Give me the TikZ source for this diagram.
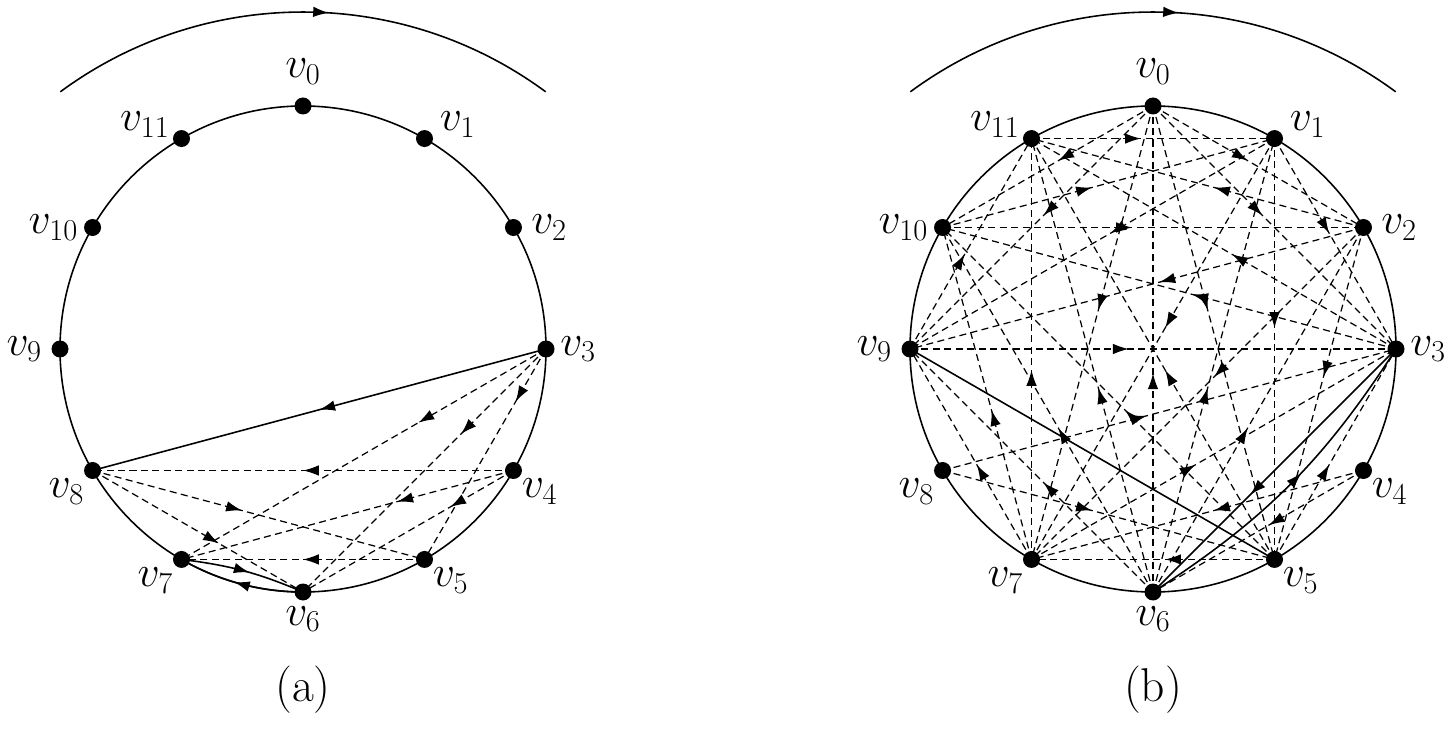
\documentclass[tikz,border=0pt]{standalone}
\usetikzlibrary{decorations.markings,arrows.meta,calc,positioning}
\begin{document}
\begin{tikzpicture}[
  dot/.style={circle,fill=black,inner sep=0pt,minimum size=0.34cm},
  lab/.style={font=\fontsize{27}{30}\selectfont,inner sep=1pt},
  marr/.style={postaction={decorate,decoration={markings,mark=at position #1 with {\arrow{Latex[length=9pt,width=6pt]}}}}},
  marr/.default=0.5,
  dl/.style={dashed,line width=0.7pt,dash pattern=on 4pt off 2.5pt},
  sl/.style={line width=0.9pt}]
\useasboundingbox (0,0) rectangle (28.96,14.66);
\def\r{4.86}
% ---------- (a)
\coordinate (CA) at (6.06,7.68);
\draw[sl] (CA) circle (\r);
\foreach \i in {0,...,11}{\node[dot] (L\i) at ($(CA)+(90-30*\i:\r)$) {};}
\draw[sl,marr=0.55] (6.06,6.24)++(126.4:8.18) arc (126.4:53.6:8.18);
\node[lab,above=6pt of L0] {$v_0$};
\node[lab,above right=-4pt and 4pt of L1] {$v_1$};
\node[lab,right=4pt of L2] {$v_2$};
\node[lab,right=2pt of L3] {$v_3$};
\node[lab,below right=0pt and 0pt of L4] {$v_4$};
\node[lab,below right=0pt and 0pt of L5] {$v_5$};
\node[lab,below=2pt of L6] {$v_6$};
\node[lab,below left=0pt and 0pt of L7] {$v_7$};
\node[lab,below left=0pt and 0pt of L8] {$v_8$};
\node[lab,left=4pt of L9] {$v_9$};
\node[lab,left=2pt of L10] {$v_{10}$};
\node[lab,above left=-4pt and 2pt of L11] {$v_{11}$};
\draw[sl,marr] (L3.center) -- (L8.center);
\foreach \a/\b/\p in {3/7/0.35,3/6/0.35,3/5/0.25,4/8/0.5,4/7/0.35,4/6/0.3,8/5/0.45,8/6/0.6,5/7/0.5}
  \draw[dl,marr=\p] (L\a.center) -- (L\b.center);
\draw[sl,marr=0.55] (L7.center) to[bend left=8] (L6.center);
\draw[sl,marr=0.55] (CA)++(-90:\r) arc (-90:-120:\r);
\node[lab] (capa) at (6.06,0.86) {(a)};
% ---------- (b)
\coordinate (CB) at (23.06,7.68);
\draw[sl] (CB) circle (\r);
\foreach \i in {0,...,11}{\node[dot] (R\i) at ($(CB)+(90-30*\i:\r)$) {};}
\draw[sl,marr=0.55] (23.06,6.24)++(126.4:8.18) arc (126.4:53.6:8.18);
\node[lab,above=6pt of R0] {$v_0$};
\node[lab,above right=-4pt and 4pt of R1] {$v_1$};
\node[lab,right=4pt of R2] {$v_2$};
\node[lab,right=2pt of R3] {$v_3$};
\node[lab,below right=0pt and 0pt of R4] {$v_4$};
\node[lab,below right=0pt and 0pt of R5] {$v_5$};
\node[lab,below=2pt of R6] {$v_6$};
\node[lab,below left=0pt and 0pt of R7] {$v_7$};
\node[lab,below left=0pt and 0pt of R8] {$v_8$};
\node[lab,left=4pt of R9] {$v_9$};
\node[lab,left=2pt of R10] {$v_{10}$};
\node[lab,above left=-4pt and 2pt of R11] {$v_{11}$};
\foreach \a/\b in {0/2,0/3,0/5,6/0,0/7,0/9,0/10,
  1/3,1/5,6/1,1/7,1/9,10/1,11/1,
  2/5,6/2,2/7,2/9,10/2,2/11,
  5/3,7/3,9/3,3/10,3/11,
  5/7,5/10,5/11,8/5,8/3,
  6/9,6/10,6/11,4/6,4/7,
  7/9,7/10,7/11,9/11}
  \draw[dl,marr=0.45] (R\a.center) -- (R\b.center);
\draw[sl] (R9.center) -- (R5.center);
\draw[sl,marr=0.6] (R3.center) -- (R6.center);
\draw[sl,marr=0.55] (R6.center) to[bend right=12] (R3.center);
\node[lab] (capb) at (23.06,0.86) {(b)};
\end{tikzpicture}
\end{document}
